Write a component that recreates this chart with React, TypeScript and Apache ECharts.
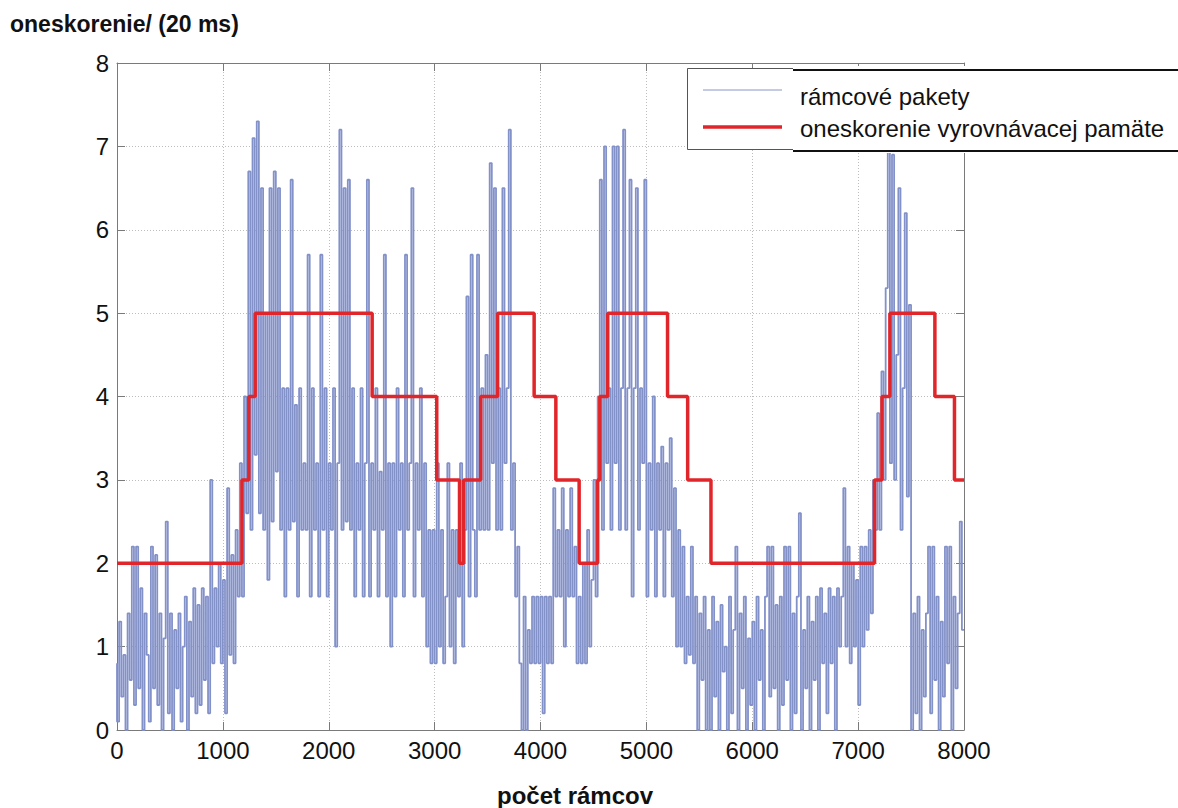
import React, { useEffect, useRef } from "react";
import * as echarts from "echarts";

const PACKET_STEP = 20;
// rámcové pakety – one value every PACKET_STEP frames
const packetValues: number[] = [
  0.8, 0.1, 1.3, 0.4, 0.9, 0.0, 1.4, 0.6, 2.2, 0.3,
  2.2, 0.5, 1.7, 0.0, 1.4, 0.9, 0.1, 2.2, 0.5, 2.1,
  0.3, 1.4, 0.0, 1.1, 2.5, 0.2, 1.4, 0.0, 1.2, 0.5,
  1.4, 0.1, 1.0, 1.6, 0.0, 1.3, 0.4, 1.7, 0.2, 1.5,
  0.3, 1.7, 0.6, 1.6, 0.2, 3.0, 0.8, 1.7, 1.0, 2.0,
  0.8, 1.8, 0.2, 2.9, 0.9, 2.1, 0.8, 2.4, 1.6, 3.2,
  1.6, 4.0, 2.6, 6.7, 2.4, 7.1, 3.3, 7.3, 2.6, 6.5,
  2.4, 5.0, 1.8, 6.5, 2.5, 6.7, 3.1, 6.5, 2.4, 4.1,
  1.6, 4.1, 2.4, 6.6, 2.5, 3.9, 1.6, 4.1, 2.4, 3.2,
  2.4, 5.7, 1.6, 4.1, 2.4, 3.2, 1.6, 5.7, 2.4, 4.1,
  1.6, 3.2, 2.4, 4.1, 1.0, 3.2, 7.2, 2.4, 6.5, 2.5,
  6.6, 2.4, 4.1, 1.6, 3.2, 2.4, 4.1, 1.6, 3.2, 6.6,
  1.6, 3.2, 2.4, 4.1, 1.6, 3.1, 2.4, 5.7, 1.6, 3.2,
  1.0, 3.2, 1.6, 4.1, 2.4, 3.2, 1.6, 5.7, 2.4, 3.2,
  6.5, 1.6, 3.2, 2.4, 4.1, 1.6, 3.2, 1.0, 2.4, 0.8,
  2.4, 0.8, 3.2, 1.0, 2.4, 0.8, 1.6, 3.2, 1.0, 2.4,
  0.8, 2.4, 1.6, 3.2, 1.0, 2.4, 5.2, 1.6, 5.7, 2.4,
  1.6, 5.7, 2.4, 4.1, 2.4, 4.5, 2.4, 6.8, 3.2, 6.5,
  2.4, 4.1, 2.4, 6.5, 3.2, 4.1, 7.2, 2.4, 3.2, 1.6,
  2.2, 0.8, 0.0, 1.6, 0.0, 1.2, 0.8, 1.6, 0.8, 1.6,
  0.8, 1.6, 0.2, 1.6, 0.8, 1.6, 0.8, 2.9, 1.6, 2.4,
  1.6, 2.9, 1.0, 2.4, 1.6, 2.9, 1.6, 2.2, 0.8, 1.6,
  0.8, 2.0, 0.8, 2.4, 1.0, 1.8, 3.0, 1.6, 4.0, 6.6,
  2.4, 7.0, 3.2, 4.1, 2.4, 7.0, 3.2, 7.0, 2.4, 4.1,
  7.2, 2.4, 4.1, 6.6, 1.6, 4.1, 6.5, 2.4, 4.1, 3.2,
  6.6, 1.6, 3.2, 2.4, 4.0, 1.6, 3.2, 2.4, 3.4, 1.6,
  3.2, 2.4, 3.5, 1.6, 2.9, 1.0, 2.4, 1.0, 2.2, 0.8,
  1.6, 0.9, 2.2, 0.8, 1.6, 0.0, 1.4, 0.6, 1.6, 0.0,
  1.2, 0.0, 1.6, 0.4, 1.3, 0.0, 1.5, 0.7, 1.0, 0.0,
  1.6, 0.2, 1.2, 2.2, 0.0, 1.4, 0.5, 1.6, 0.0, 1.1,
  0.3, 1.3, 0.0, 1.6, 0.6, 1.2, 0.0, 1.6, 2.2, 0.4,
  2.2, 0.5, 1.5, 0.0, 1.6, 0.3, 2.2, 0.6, 2.2, 0.0,
  1.4, 0.2, 1.6, 2.6, 0.0, 1.2, 0.5, 1.6, 0.0, 1.3,
  0.6, 1.6, 0.0, 1.7, 0.8, 1.4, 0.2, 1.7, 0.8, 1.6,
  0.0, 1.7, 1.0, 1.6, 2.9, 1.0, 2.2, 0.8, 2.0, 1.0,
  1.8, 0.3, 2.2, 1.0, 2.2, 1.2, 2.4, 1.4, 3.0, 2.4,
  3.8, 2.4, 4.3, 3.0, 5.3, 7.0, 3.2, 6.9, 3.0, 4.5,
  6.5, 2.4, 4.1, 6.2, 2.8, 5.1, 0.0, 1.4, 0.2, 1.6,
  0.0, 1.2, 0.4, 1.4, 2.2, 0.2, 2.2, 0.6, 1.6, 0.0,
  1.3, 0.4, 2.2, 0.8, 2.2, 0.0, 1.6, 0.5, 1.4, 2.5,
  1.2,
];

// oneskorenie vyrovnávacej pamäte – level changes (frame where level starts)
const bufferFrames = [0, 1180, 1245, 1305, 2410, 3020, 3235, 3275, 3435, 3595, 3940, 4145, 4365, 4540, 4560, 4635, 5200, 5390, 5610, 7155, 7225, 7300, 7725, 7910, 8000];
const bufferLevels = [2, 3, 4, 5, 4, 3, 2, 3, 4, 5, 4, 3, 2, 3, 4, 5, 4, 3, 2, 3, 4, 5, 4, 3, 3];

const xTicks = [0, 1000, 2000, 3000, 4000, 5000, 6000, 7000, 8000];
const yTicks = [0, 1, 2, 3, 4, 5, 6, 7, 8];

const seriesNames = ["rámcové pakety", "oneskorenie vyrovnávacej pamäte"];
const yTitle = "oneskorenie/ (20 ms)";
const xTitle = "počet rámcov";

const FONT = "'Liberation Sans', Arial, Helvetica, sans-serif";

export default function App() {
  const ref = useRef<HTMLDivElement>(null);
  useEffect(() => {
    document.body.style.margin = "0";
    const chart = echarts.init(ref.current!, null, { renderer: "svg" });
    const packetData = packetValues.map((v, i) => [i * PACKET_STEP, v]);
    const bufferData = bufferFrames.map((f, i) => [f, bufferLevels[i]]);
    const axisLineStyle = { color: "#7a7a7a", width: 1 };
    const tick = { show: true, inside: true, length: 8, lineStyle: axisLineStyle };
    const labelStyle = { color: "#111", fontSize: 24, fontFamily: FONT, margin: 8, formatter: (v: number) => String(v) };
    chart.setOption({
      animation: false,
      backgroundColor: "#ffffff",
      textStyle: { fontFamily: FONT },
      grid: { left: 117, top: 63, width: 847, height: 667, containLabel: false },
      xAxis: [
        {
          type: "value",
          min: xTicks[0],
          max: xTicks[xTicks.length - 1],
          interval: 1000,
          axisLine: { show: true, lineStyle: axisLineStyle },
          axisTick: tick,
          axisLabel: labelStyle,
          splitLine: { show: true, lineStyle: { color: "#bdbdbd", type: [1, 2], width: 1 } },
        },
        {
          type: "value",
          position: "top",
          min: xTicks[0],
          max: xTicks[xTicks.length - 1],
          interval: 1000,
          axisLine: { show: true, onZero: false, lineStyle: axisLineStyle },
          axisTick: tick,
          axisLabel: { show: false },
          splitLine: { show: false },
        },
      ],
      yAxis: [
        {
          type: "value",
          min: yTicks[0],
          max: yTicks[yTicks.length - 1],
          interval: 1,
          axisLine: { show: true, lineStyle: axisLineStyle },
          axisTick: tick,
          axisLabel: labelStyle,
          splitLine: { show: true, lineStyle: { color: "#bdbdbd", type: [1, 2], width: 1 } },
        },
        {
          type: "value",
          position: "right",
          min: yTicks[0],
          max: yTicks[yTicks.length - 1],
          interval: 1,
          axisLine: { show: true, onZero: false, lineStyle: axisLineStyle },
          axisTick: tick,
          axisLabel: { show: false },
          splitLine: { show: false },
        },
      ],
      series: [
        {
          name: seriesNames[0],
          type: "line",
          step: "start",
          data: packetData,
          showSymbol: false,
          symbol: "none",
          lineStyle: { color: "#8391c9", width: 1.8 },
          z: 2,
        },
        {
          name: seriesNames[1],
          type: "line",
          step: "end",
          data: bufferData,
          showSymbol: false,
          symbol: "none",
          lineStyle: { color: "#e1262b", width: 3.5 },
          z: 3,
        },
      ],
      graphic: [
        {
          type: "text",
          x: 10,
          y: 24,
          z: 100,
          style: { text: yTitle, font: `bold 23px ${FONT}`, fill: "#111", verticalAlign: "middle" },
        },
        {
          type: "text",
          x: 575,
          y: 795,
          z: 100,
          style: { text: xTitle, font: `bold 24px ${FONT}`, fill: "#111", align: "center", verticalAlign: "middle" },
        },
        {
          type: "rect",
          z: 100,
          shape: { x: 687.5, y: 68.5, width: 560, height: 81 },
          style: { fill: "#ffffff", stroke: "#555555", lineWidth: 1 },
        },
        {
          type: "rect",
          z: 101,
          shape: { x: 793, y: 66, width: 400, height: 87 },
          style: { fill: "#ffffff", stroke: null },
        },
        {
          type: "line",
          z: 102,
          shape: { x1: 793, y1: 70, x2: 1178, y2: 70 },
          style: { stroke: "#111111", lineWidth: 2 },
        },
        {
          type: "line",
          z: 102,
          shape: { x1: 793, y1: 151, x2: 1178, y2: 151 },
          style: { stroke: "#111111", lineWidth: 2 },
        },
        {
          type: "line",
          z: 102,
          shape: { x1: 703, y1: 90, x2: 782, y2: 90 },
          style: { stroke: "#8a96c4", lineWidth: 1 },
        },
        {
          type: "line",
          z: 102,
          shape: { x1: 703, y1: 127, x2: 782, y2: 127 },
          style: { stroke: "#e1262b", lineWidth: 3.5 },
        },
        {
          type: "text",
          x: 800,
          y: 96,
          z: 103,
          style: { text: seriesNames[0], font: `24px ${FONT}`, fill: "#111", verticalAlign: "middle" },
        },
        {
          type: "text",
          x: 800,
          y: 128,
          z: 103,
          style: { text: seriesNames[1], font: `24px ${FONT}`, fill: "#111", verticalAlign: "middle" },
        },
      ],
    });
    return () => chart.dispose();
  }, []);
  return <div ref={ref} style={{ width: 1178, height: 808 }} />;
}
